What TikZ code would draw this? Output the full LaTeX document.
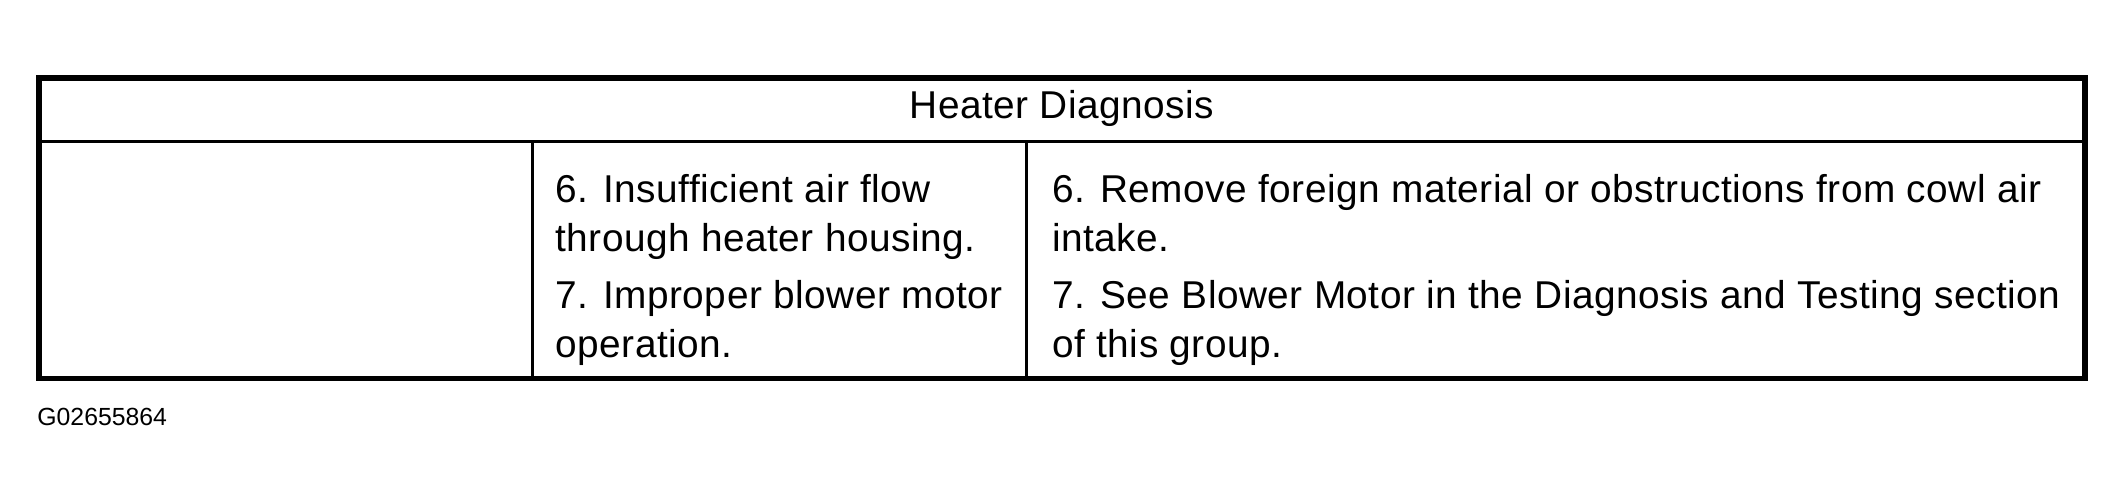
\documentclass[tikz,border=0pt]{standalone}
\usepackage{fontspec}
\setmainfont{Liberation Sans}
\newfontfamily\cellfont[LetterSpace=1.3]{Liberation Sans}
\begin{document}
\begin{tikzpicture}[x=0.5pt,y=-0.5pt,
  cell/.style={inner sep=0pt,anchor=base west,align=left,font=\cellfont\fontsize{19.4pt}{24.2pt}\selectfont},
  title/.style={inner sep=0pt,anchor=base,font=\cellfont\fontsize{19.4pt}{24.2pt}\selectfont},
  tag/.style={inner sep=0pt,anchor=base west,font=\fontsize{12.4pt}{15pt}\selectfont},
  outer/.style={line width=2.75pt},
  inner/.style={line width=1.5pt}]
\useasboundingbox (0,0) rectangle (2124,500);
\coordinate (tl) at (39,78);
\coordinate (br) at (2085,378.5);
\coordinate (hl) at (39,141);
\coordinate (hr) at (2085,141);
\coordinate (c1t) at (532,141);
\coordinate (c1b) at (532,378.5);
\coordinate (c2t) at (1026,141);
\coordinate (c2b) at (1026,378.5);
\draw[inner] (hl) -- (hr);
\draw[inner] (c1t) -- (c1b);
\draw[inner] (c2t) -- (c2b);
\draw[outer] (tl) rectangle (br);
\node[title] (head) at (1062,118.3) {Heater Diagnosis};
\node[cell] (cause6) at (555,251) {6. Insufficient air flow\\through heater housing.};
\node[cell] (cause7) at (555,357) {7. Improper blower motor\\operation.};
\node[cell] (fix6) at (1052,251) {6. Remove foreign material or obstructions from cowl air\\intake.};
\node[cell] (fix7) at (1052,357) {7. See Blower Motor in the Diagnosis and Testing section\\of this group.};
\node[tag] (gid) at (37,425) {G02655864};
\end{tikzpicture}
\end{document}
